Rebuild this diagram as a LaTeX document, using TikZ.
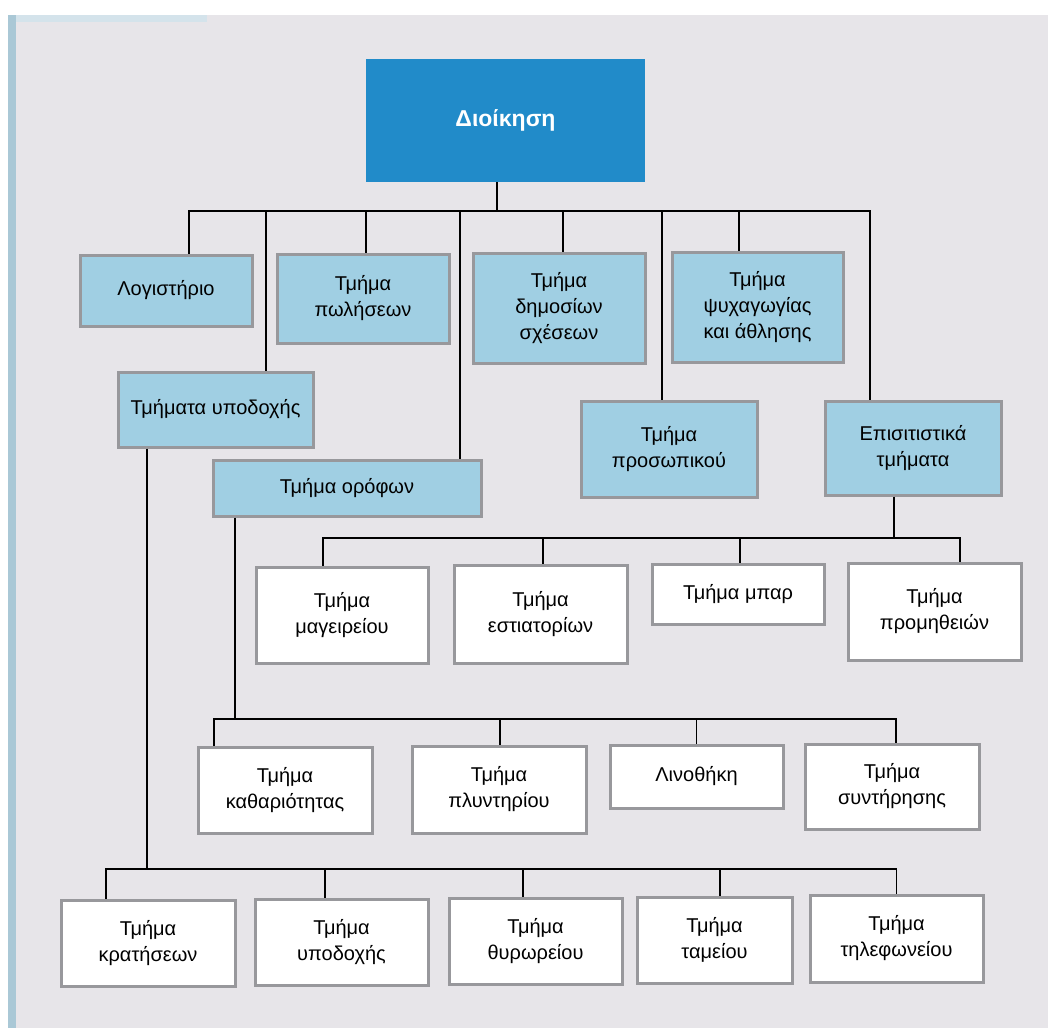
\documentclass[tikz,border=0pt]{standalone}
\usepackage{fontspec}
\setmainfont{Liberation Sans}
\usepackage{tikz}
\usetikzlibrary{positioning, calc}

\definecolor{headblue}{RGB}{33,139,201}
\definecolor{deptblue}{RGB}{160,207,227}
\definecolor{boxgray}{RGB}{152,152,156}
\definecolor{pagegray}{RGB}{231,229,233}
\definecolor{stripblue}{RGB}{170,200,214}

\begin{document}
\begin{tikzpicture}[
    x=1pt, y=-1pt,
    head/.style={rectangle, fill=headblue, text=white, inner sep=0pt,
        font=\fontsize{23}{27}\selectfont\bfseries},
    dept/.style={rectangle, draw=boxgray, line width=3pt, fill=deptblue, inner sep=0pt,
        align=center, font=\fontsize{20}{26}\selectfont},
    unit/.style={dept, fill=white},
    link/.style={draw=black, line width=1.4pt}
]

% --- Page ---
\useasboundingbox (0,0) rectangle (1048,1028);
\fill[white] (0,0) rectangle (1048,1028);
\fill[pagegray] (8,15) rectangle (1048,1028);
\fill[stripblue] (8,15) rectangle (16,1028);
\fill[stripblue!50] (16,15) rectangle (207,22);

% --- Management ---
\node[head, minimum width=279, minimum height=123] (mgmt) at (505.5,120.5) {Διοίκηση};

% --- Departments (first level) ---
\node[dept, minimum width=172, minimum height=71]  (acc)   at (166,290.5) {Λογιστήριο};
\node[dept, minimum width=172, minimum height=89]  (sales) at (363,298.5) {Τμήμα\\πωλήσεων};
\node[dept, minimum width=172, minimum height=110] (pr)    at (559,308)   {Τμήμα\\δημοσίων\\σχέσεων};
\node[dept, minimum width=171, minimum height=110] (leis)  at (757.5,307) {Τμήμα\\ψυχαγωγίας\\και άθλησης};
\node[dept, minimum width=195, minimum height=75]  (front) at (215.5,409.5) {Τμήματα υποδοχής};
\node[dept, minimum width=268, minimum height=56]  (floor) at (347,488)   {Τμήμα ορόφων};
\node[dept, minimum width=176, minimum height=96]  (staff) at (669,449)   {Τμήμα\\προσωπικού};
\node[dept, minimum width=176, minimum height=94]  (food)  at (913,448)   {Επισιτιστικά\\τμήματα};

% --- Food and beverage units ---
\node[unit, minimum width=172, minimum height=96] (kitchen) at (342,615)   {Τμήμα\\μαγειρείου};
\node[unit, minimum width=173, minimum height=98] (rest)    at (540.5,614) {Τμήμα\\εστιατορίων};
\node[unit, minimum width=172, minimum height=60] (bar)     at (738,594)   {Τμήμα μπαρ};
\node[unit, minimum width=173, minimum height=97] (supply)  at (934.5,611.5) {Τμήμα\\προμηθειών};

% --- Housekeeping units ---
\node[unit, minimum width=174, minimum height=86] (clean)   at (285,790)   {Τμήμα\\καθαριότητας};
\node[unit, minimum width=174, minimum height=87] (laundry) at (499,789.5) {Τμήμα\\πλυντηρίου};
\node[unit, minimum width=173, minimum height=63] (linen)   at (696.5,776.5) {Λινοθήκη};
\node[unit, minimum width=174, minimum height=85] (maint)   at (892,786.5) {Τμήμα\\συντήρησης};

% --- Front office units ---
\node[unit, minimum width=174, minimum height=86] (resv)   at (148,943)   {Τμήμα\\κρατήσεων};
\node[unit, minimum width=173, minimum height=86] (recp)   at (341.5,942) {Τμήμα\\υποδοχής};
\node[unit, minimum width=173, minimum height=86] (porter) at (535.5,941) {Τμήμα\\θυρωρείου};
\node[unit, minimum width=155, minimum height=86] (cash)   at (714.5,940) {Τμήμα\\ταμείου};
\node[unit, minimum width=173, minimum height=87] (phone)  at (896.5,938.5) {Τμήμα\\τηλεφωνείου};

% --- Bus junctions ---
\coordinate (topbus)   at (497,211);
\coordinate (foodbus)  at (894,538);
\coordinate (floorbus) at (235,719);
\coordinate (frontbus) at (147,869);

% --- Management to departments ---
\draw[link] ([xshift=-8.5]mgmt.south) -- (topbus);
\draw[link] ([xshift=23]acc.north)    |- (topbus);
\draw[link] ([xshift=50.5]front.north) |- (topbus);
\draw[link] ([xshift=3]sales.north)   |- (topbus);
\draw[link] ([xshift=113]floor.north) |- (topbus);
\draw[link] ([xshift=4]pr.north)      |- (topbus);
\draw[link] ([xshift=-7]staff.north)  |- (topbus);
\draw[link] ([xshift=-18.5]leis.north) |- (topbus);
\draw[link] ([xshift=-43]food.north)  |- (topbus);

% --- Food and beverage ---
\draw[link] ([xshift=-19]food.south) -- (foodbus);
\draw[link] ([xshift=-19]kitchen.north) |- (foodbus);
\draw[link] ([xshift=2.5]rest.north)    |- (foodbus);
\draw[link] ([xshift=2]bar.north)       |- (foodbus);
\draw[link] ([xshift=25.5]supply.north) |- (foodbus);

% --- Housekeeping ---
\draw[link] ([xshift=-112]floor.south) -- (floorbus);
\draw[link] ([xshift=-71]clean.north)  |- (floorbus);
\draw[link] ([xshift=1]laundry.north)  |- (floorbus);
\draw[link] (linen.north)              |- (floorbus);
\draw[link] ([xshift=4]maint.north)    |- (floorbus);

% --- Front office ---
\draw[link] ([xshift=-68.5]front.south) -- (frontbus);
\draw[link] ([xshift=-42]resv.north)    |- (frontbus);
\draw[link] ([xshift=-16.5]recp.north)  |- (frontbus);
\draw[link] ([xshift=-12.5]porter.north) |- (frontbus);
\draw[link] ([xshift=5.5]cash.north)    |- (frontbus);
\draw[link] (phone.north)               |- (frontbus);

\end{tikzpicture}
\end{document}
